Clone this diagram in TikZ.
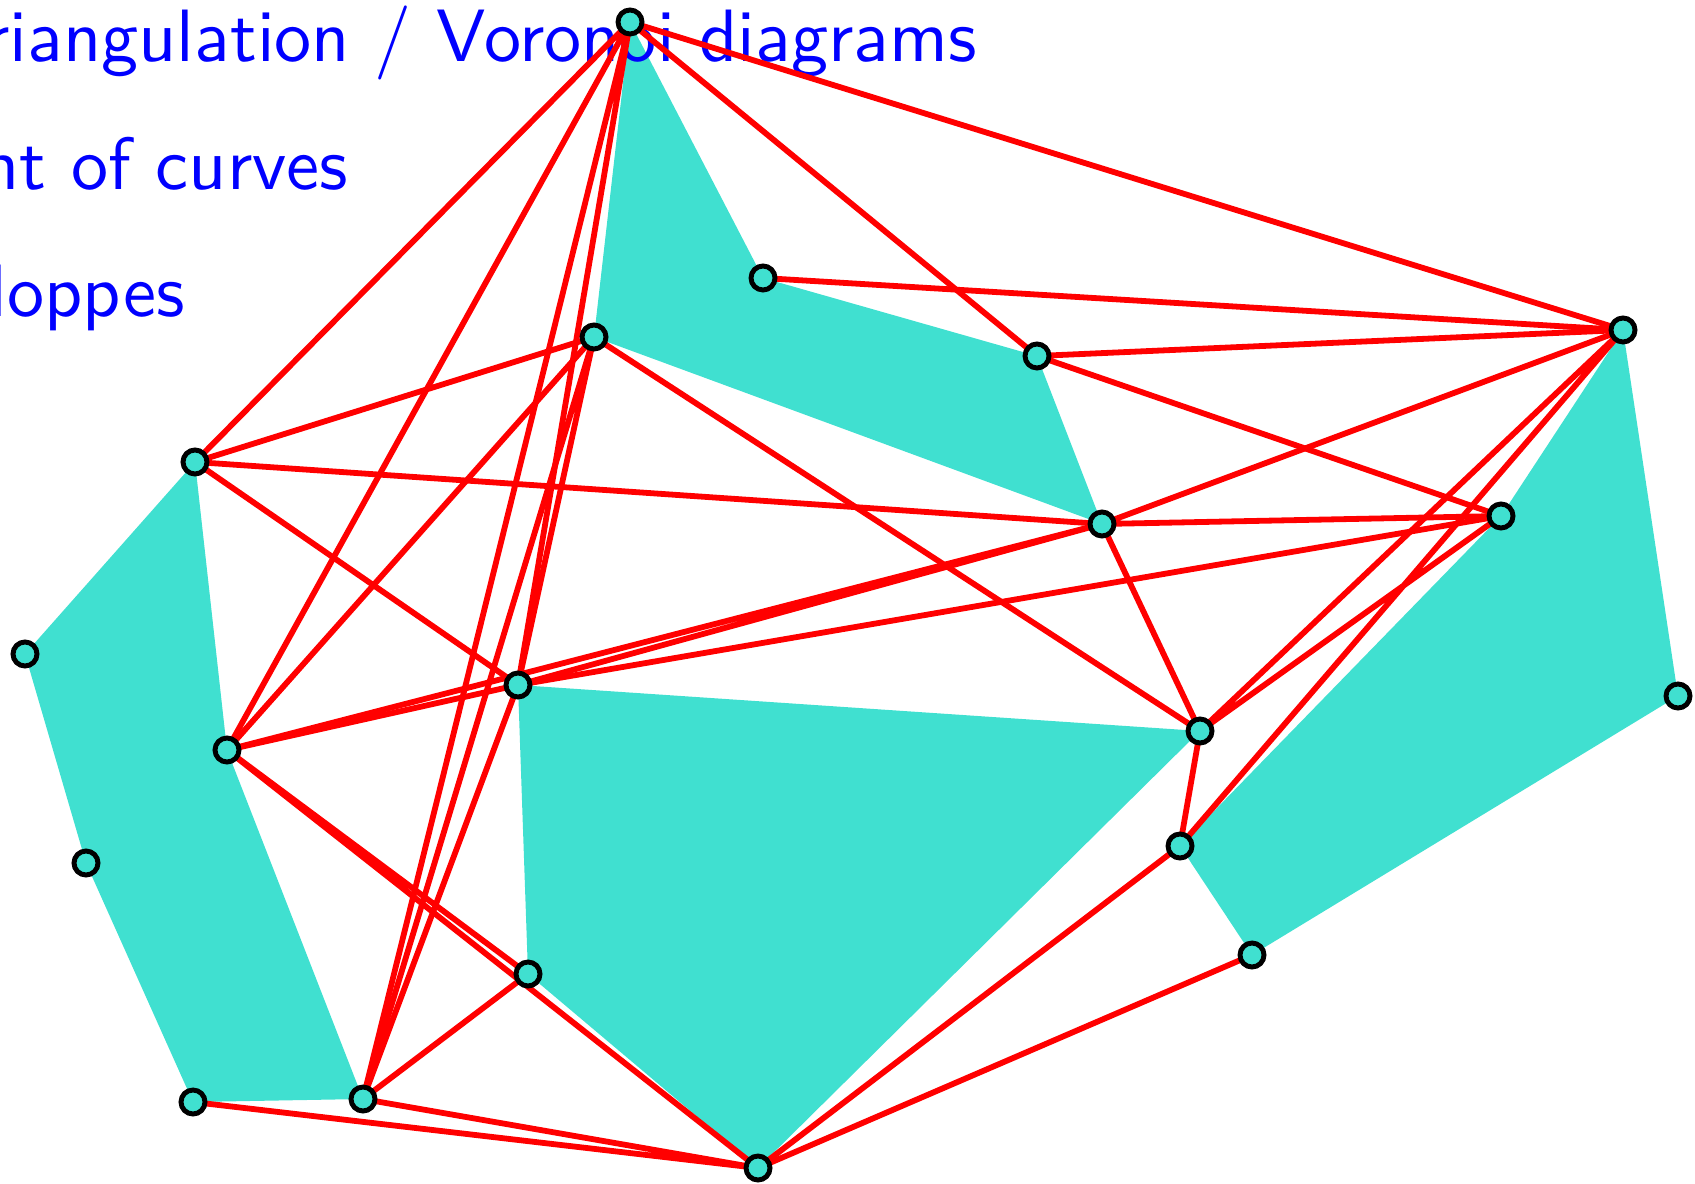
\documentclass[tikz,border=0pt]{standalone}
\definecolor{cell}{RGB}{64,224,208}
\pgfdeclarelayer{back}
\pgfsetlayers{back,main}

\begin{document}
\begin{tikzpicture}[
    site/.style={circle, draw=black, fill=cell, line width=1.4pt, inner sep=0pt, minimum size=0.24cm}, % Style for points
    link/.style={red, line width=1.65pt}, % Style for edges
    region/.style={fill=cell},
    topic/.style={blue, anchor=base east, inner sep=0pt, scale=2.11, transform shape, font=\sffamily\fontsize{10}{12}\selectfont}
]

\useasboundingbox (0,0) rectangle (16.95,11.83);

% Points (positions)
\node[site] (a) at (6.30,11.61) {};
\node[site] (b) at (7.63,9.05) {};
\node[site] (c) at (5.94,8.46) {};
\node[site] (d) at (10.37,8.27) {};
\node[site] (e) at (16.23,8.53) {};
\node[site] (f) at (1.95,7.21) {};
\node[site] (g) at (11.02,6.59) {};
\node[site] (h) at (15.01,6.67) {};
\node[site] (i) at (0.25,5.29) {};
\node[site] (j) at (5.18,4.98) {};
\node[site] (k) at (16.78,4.87) {};
\node[site] (l) at (2.27,4.33) {};
\node[site] (m) at (12.00,4.52) {};
\node[site] (n) at (11.80,3.37) {};
\node[site] (o) at (0.86,3.20) {};
\node[site] (p) at (5.28,2.09) {};
\node[site] (q) at (12.52,2.28) {};
\node[site] (r) at (1.93,0.81) {};
\node[site] (s) at (3.63,0.84) {};
\node[site] (t) at (7.58,0.15) {};

\begin{pgfonlayer}{back}
% Filled cells
\fill[region] (f.center) -- (i.center) -- (o.center) -- (r.center) -- (s.center) -- (l.center) -- cycle;
\fill[region] (a.center) -- (b.center) -- (d.center) -- (g.center) -- (c.center) -- cycle;
\fill[region] (j.center) -- (m.center) -- (t.center) -- (p.center) -- cycle;
\fill[region] (e.center) -- (k.center) -- (q.center) -- (n.center) -- (h.center) -- cycle;

% Text lines (cut at the left border)
\node[topic] (line1) at (9.78,11.21) {riangulation / Voronoi diagrams};
\node[topic] (line2) at (3.495,9.93) {nt of curves};
\node[topic] (line3) at (1.86,8.66) {loppes};

% Edges
\draw[link] (a.center) -- (e.center) (a.center) -- (d.center) (a.center) -- (f.center)
    (a.center) -- (l.center) (a.center) -- (s.center) (a.center) -- (j.center);
\draw[link] (b.center) -- (e.center);
\draw[link] (c.center) -- (f.center) (c.center) -- (l.center) (c.center) -- (m.center)
    (c.center) -- (s.center) (c.center) -- (j.center);
\draw[link] (d.center) -- (e.center) (d.center) -- (h.center);
\draw[link] (f.center) -- (g.center) (f.center) -- (j.center);
\draw[link] (g.center) -- (e.center) (g.center) -- (h.center) (g.center) -- (m.center)
    (j.center) -- (g.center) (l.center) -- (g.center);
\draw[link] (j.center) -- (h.center) (l.center) -- (j.center) (j.center) -- (s.center);
\draw[link] (l.center) -- (p.center) (l.center) -- (t.center);
\draw[link] (m.center) -- (n.center) (m.center) -- (e.center) (m.center) -- (h.center)
    (n.center) -- (e.center) (n.center) -- (t.center);
\draw[link] (q.center) -- (t.center) (r.center) -- (t.center) (s.center) -- (t.center)
    (s.center) -- (p.center);
\end{pgfonlayer}

\end{tikzpicture}
\end{document}
